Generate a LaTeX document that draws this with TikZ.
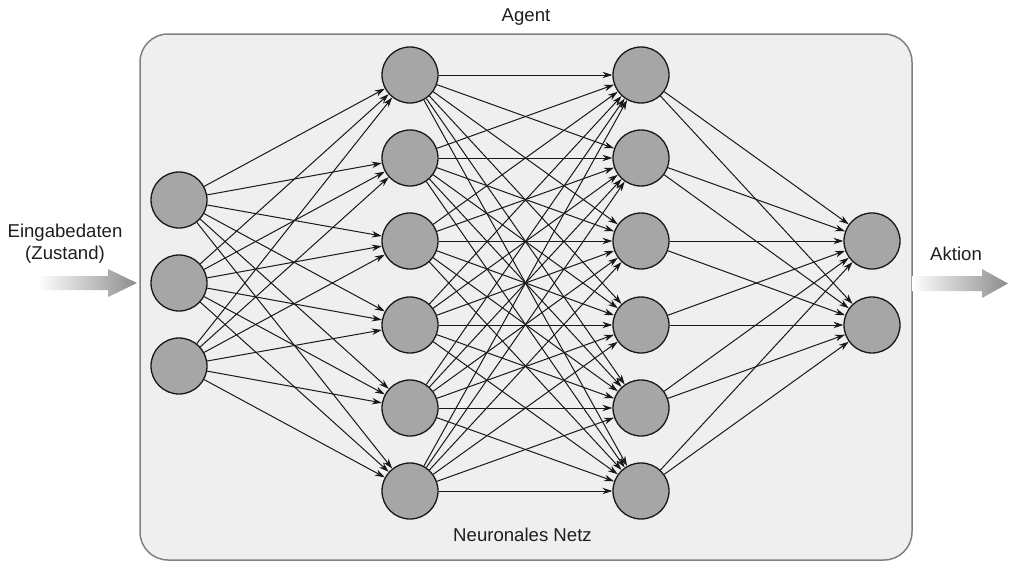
\documentclass[tikz,border=0pt]{standalone}
\usepackage{fontspec}
\setmainfont{Liberation Sans}
\usetikzlibrary{arrows.meta}
\definecolor{boxfill}{HTML}{EFEFEF}
\definecolor{boxline}{HTML}{808080}
\definecolor{neuronfill}{HTML}{A6A6A6}
\definecolor{inktext}{HTML}{1E1E1E}
\begin{document}
\begin{tikzpicture}[x=1pt,y=-1pt,
  neuron/.style={circle, draw=black!90, line width=1.3pt, fill=neuronfill,
    minimum size=56pt, inner sep=0pt},
  link/.style={line width=1pt, draw=black!90, -{Stealth[length=10pt,width=6.5pt]}},
  caption/.style={font=\fontsize{18.6}{21}\selectfont, text=inktext, anchor=base, inner sep=0pt}]
\useasboundingbox (0,0) rectangle (1010,562);

% agent frame
\draw[fill=boxfill, draw=boxline, line width=1.5pt, rounded corners=28pt]
  (140,34) rectangle (912,560);

% labels
\node[caption] (agent) at (526,21) {Agent};
\node[caption] (netz) at (522.5,541) {Neuronales Netz};
\node[caption] (ein1) at (65,237) {Eingabedaten};
\node[caption] (ein2) at (65,259) {(Zustand)};
\node[caption] (akt) at (956,260) {Aktion};

% input and output flow arrows
\shade[left color=white, right color=black!45]
  (38,276) -- (108,276) -- (108,269) -- (137,283) -- (108,297) -- (108,290) -- (38,290) -- cycle;
\shade[left color=white, right color=black!45]
  (912,276) -- (982,276) -- (982,269) -- (1008,283.5) -- (982,298) -- (982,291) -- (912,291) -- cycle;

% neurons
\foreach \k/\y in {1/200,2/283,3/366}
  \node[neuron] (i\k) at (179,\y) {};
\foreach \k/\y in {1/75,2/158,3/241,4/325,5/408,6/491} {
  \node[neuron] (a\k) at (410,\y) {};
  \node[neuron] (b\k) at (641,\y) {};
}
\foreach \k/\y in {1/241,2/325}
  \node[neuron] (o\k) at (872,\y) {};

% connections
\foreach \i in {1,2,3}
  \foreach \j in {1,...,6}
    \draw[link] (i\i) -- (a\j);
\foreach \i in {1,...,6}
  \foreach \j in {1,...,6}
    \draw[link] (a\i) -- (b\j);
\foreach \i in {1,...,6}
  \foreach \j in {1,2}
    \draw[link] (b\i) -- (o\j);
\end{tikzpicture}
\end{document}
